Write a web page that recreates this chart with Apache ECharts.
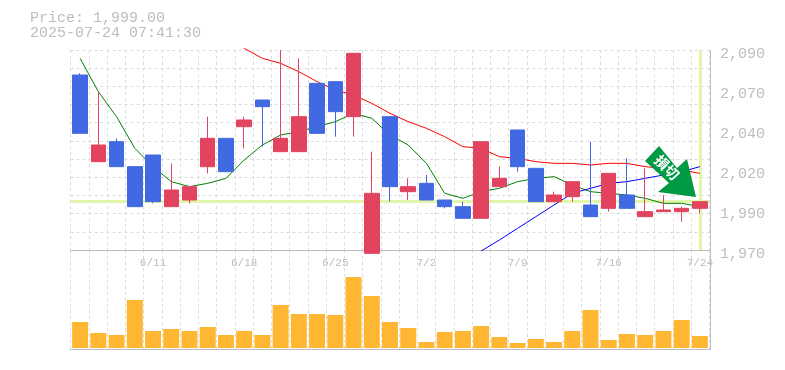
<!DOCTYPE html>
<html><head><meta charset="utf-8">
<style>html,body{margin:0;padding:0;background:#fff}#c{width:785px;height:370px}</style>
<script src="https://cdn.jsdelivr.net/npm/echarts@6/dist/echarts.min.js"></script>
</head><body><div id="c"></div>
<script>
const headerLines = ['Price: 1,999.00', '2025-07-24 07:41:30'];
const categories = ['6/5','6/6','6/9','6/10','6/11','6/12','6/13','6/16','6/17','6/18','6/19','6/20','6/23','6/24','6/25','6/26','6/27','6/30','7/1','7/2','7/3','7/4','7/7','7/8','7/9','7/10','7/11','7/14','7/15','7/16','7/17','7/18','7/22','7/23','7/24'];
const shownDates = ['6/11','6/18','6/25','7/2','7/9','7/16','7/24'];
const priceTickValues = [1970,1994,2018,2042,2066,2090];
const priceTickLabels = ['1,970','1,990','2,020','2,040','2,070','2,090'];
const lastPrice = 1999;
// open, close, low, high
const candles = [
[2075,2040,2040,2076],[2023,2033,2023,2065],[2035,2020,2020,2037],[2020,1996,1996,2020],[2027,1999,1998,2027],
[1996,2006,1996,2022],[2000,2008,1998,2008],[2020,2037,2016,2050],[2037,2017,2017,2037],[2044,2048,2031,2050],
[2060,2056,2032,2060],[2029,2037,2029,2090],[2029,2050,2029,2085],[2070,2040,2040,2070],[2071,2053,2038,2071],
[2050,2088,2038,2088],[1968,2004,1968,2029],[2050,2008,1999,2050],[2005,2008,2000,2013],[2010,2000,2000,2015],
[2000,1996,1995,2000],[1996,1989,1989,1999],[1989,2035,1989,2035],[2008,2013,2008,2020],[2042,2020,2017,2042],
[2019,1999,1999,2019],[1999,2003,1999,2005],[2002,2011,1999,2011],[1997,1990,1990,2035],[1995,2016,1993,2016],
[2003,1995,1995,2025],[1990,1993,1990,2019],[1993,1994,1993,2003],[1993,1995,1987,1996],[1995,1999,1992,1999]];
const maShort = [2085,2065,2050,2031,2020,2011,2008,2010,2013,2024,2033,2039,2041,2044,2047,2052,2049,2039,2033,2022,2004,2001,2005,2007,2011,2013,2014,2009,2005,2004,2003,2001,1998,1998,1996];
const maMid = [null,null,null,null,null,null,null,null,null,2091,2085,2082,2077,2071,2066,2063,2058,2052,2047,2043,2038,2032,2031,2026,2025,2023,2022,2022,2021,2022,2022,2020,2019,2018,2016];
const maLong = [null,null,null,null,null,null,null,null,null,null,null,null,null,null,null,null,null,null,null,null,null,null,1969.4,1976,1983,1990,1997,2004,2007,2010,2011,2013,2015,2017,2020];
const volumes = [26,15,13,48,17,19,17,21,13,17,13,43,34,34,33,71,52,26,20,6,16,17,22,11,5,9,6,17,38,8,14,13,17,28,12];
const badge = '損切';

const GREY='#bdbdbd', RED='#e2435f', BLUE='#4169e1', MONO='"Liberation Mono",monospace';
const chart=echarts.init(document.getElementById('c'),null,{renderer:'canvas'});
const dash={color:'#dcdcdc',type:[3,3],width:1};
const off={axisLine:{show:false},axisTick:{show:false},axisLabel:{show:false},splitLine:{show:false}};
chart.setOption({
 animation:false,
 backgroundColor:'#fff',
 title:{left:25,top:6,text:headerLines.join('\n'),textStyle:{fontFamily:MONO,fontSize:15,fontWeight:'normal',color:GREY,lineHeight:15}},
 grid:[
  {left:70.5,right:75.5,top:50,height:200},
  {left:70.5,right:75.5,top:250,height:100},
  {left:71,right:76,top:50,height:200},
  {left:71,right:76,top:248,height:100},
  {left:71,right:76,top:54,height:200}],
 xAxis:[
  {gridIndex:0,type:'value',min:0,max:35,interval:1,axisLine:{show:false},axisTick:{show:false},axisLabel:{show:false},splitLine:{show:true,lineStyle:dash}},
  {gridIndex:1,type:'value',min:0,max:35,interval:1,axisLine:{show:false},axisTick:{show:false},axisLabel:{show:false},splitLine:{show:true,lineStyle:dash}},
  {gridIndex:2,type:'category',data:categories,position:'bottom',boundaryGap:true,axisLine:{show:false},axisTick:{show:false},splitLine:{show:false},
   axisLabel:{interval:(i,v)=>shownDates.includes(v),hideOverlap:false,margin:8,color:GREY,fontFamily:MONO,fontSize:11}},
  {gridIndex:3,type:'category',data:categories,...off},
  {gridIndex:4,type:'category',data:categories,...off}],
 yAxis:[
  {gridIndex:0,type:'value',min:0,max:11,interval:1,axisLine:{show:false},axisTick:{show:false},axisLabel:{show:false},splitLine:{show:true,lineStyle:dash}},
  {gridIndex:1,type:'value',min:0,max:1,interval:1,...off},
  {gridIndex:2,type:'value',position:'right',min:1970,max:2090,...off},
  {gridIndex:3,type:'value',min:0,max:100,...off},
  {gridIndex:4,type:'value',position:'right',min:1970,max:2090,axisLine:{show:false},axisTick:{show:false},splitLine:{show:false},
   axisLabel:{customValues:priceTickValues,margin:11,color:GREY,fontFamily:MONO,fontSize:15,formatter:v=>priceTickLabels[priceTickValues.indexOf(v)]}}],
 graphic:{elements:[
  {type:'polyline',z:2,silent:true,shape:{points:[[70,250.5],[710,250.5]]},style:{stroke:GREY,lineWidth:1,fill:null}},
  {type:'polyline',z:2,silent:true,shape:{points:[[70,349.5],[710.5,349.5],[710.5,50]]},style:{stroke:GREY,lineWidth:1,fill:null}},
  {type:'polygon',z:50,silent:true,shape:{points:[[659,146],[645,161],[669,183],[658,192],[696,197],[687,159],[677,168]]},style:{fill:'#009944'}},
  {type:'text',z:51,silent:true,x:667,y:167.5,rotation:-Math.PI/4,style:{text:badge,x:0,y:0,align:'center',verticalAlign:'middle',fill:'#fff',font:'bold 14px "Noto Sans CJK JP"'}}
 ]},
 series:[
  {type:'line',xAxisIndex:2,yAxisIndex:2,data:[],z:1,silent:true,
   markLine:{silent:true,symbol:'none',label:{show:false},animation:false,z:1,lineStyle:{color:'#e3f5aa',width:3,type:'solid'},
    data:[{yAxis:lastPrice},{xAxis:categories[categories.length-1]}]}},
  {type:'line',name:'MA short',xAxisIndex:2,yAxisIndex:2,data:maShort,z:3,symbol:'none',clip:false,lineStyle:{color:'#008000',width:1}},
  {type:'line',name:'MA mid',xAxisIndex:2,yAxisIndex:2,data:maMid,z:3,symbol:'none',clip:false,lineStyle:{color:'#ff0000',width:1}},
  {type:'line',name:'MA long',xAxisIndex:2,yAxisIndex:2,data:maLong,z:3,symbol:'none',clip:false,lineStyle:{color:'#0000ff',width:1}},
  {type:'candlestick',xAxisIndex:2,yAxisIndex:2,data:candles,z:4,clip:false,barWidth:15,
   itemStyle:{color:RED,color0:BLUE,borderColor:RED,borderColor0:BLUE,borderWidth:1}},
  {type:'bar',xAxisIndex:3,yAxisIndex:3,data:volumes,barWidth:16,z:4,itemStyle:{color:'#ffb733'}}
 ]
});
</script></body></html>
